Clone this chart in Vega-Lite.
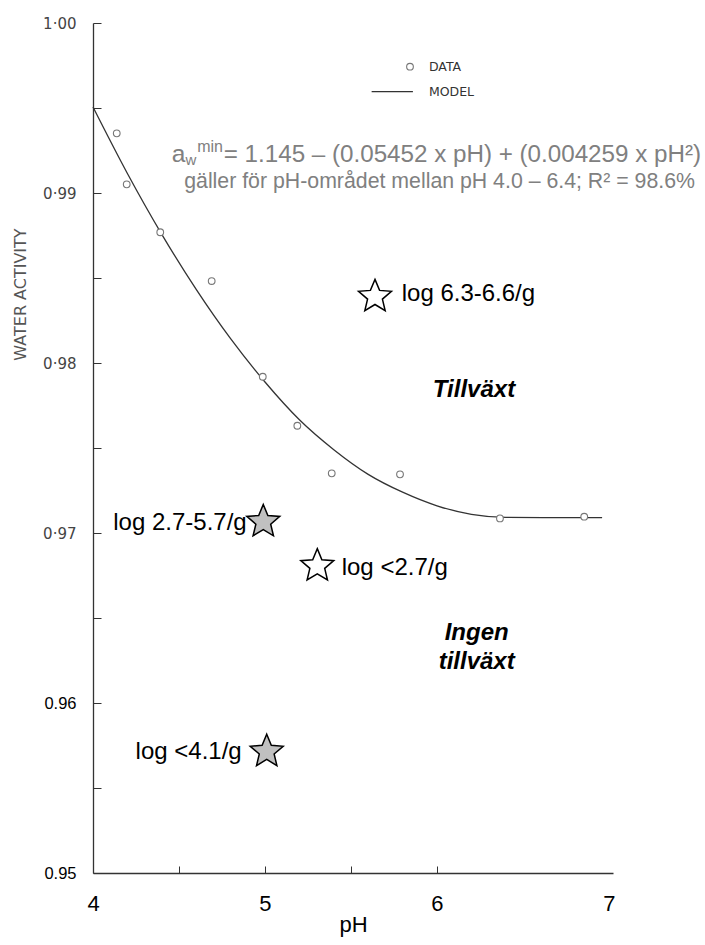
{
  "$schema": "https://vega.github.io/schema/vega-lite/v6.json",
  "autosize": {"type": "none"},
  "padding": {"left": 93, "top": 23, "right": 92, "bottom": 72},
  "width": 520,
  "height": 850,
  "background": "white",
  "config": {"view": {"stroke": null}, "axis": {"grid": false}},
  "datasets": {
    "model": [
      {"pH": 4.0, "aw": 0.99506},
      {"pH": 4.2, "aw": 0.99115},
      {"pH": 4.4, "aw": 0.98757},
      {"pH": 4.6, "aw": 0.98433},
      {"pH": 4.8, "aw": 0.98143},
      {"pH": 5.0, "aw": 0.97888},
      {"pH": 5.2, "aw": 0.97666},
      {"pH": 5.4, "aw": 0.9749},
      {"pH": 5.6, "aw": 0.97345},
      {"pH": 5.8, "aw": 0.9724},
      {"pH": 6.0, "aw": 0.9716},
      {"pH": 6.2, "aw": 0.9711},
      {"pH": 6.4, "aw": 0.97092},
      {"pH": 6.96, "aw": 0.9709}
    ],
    "observed": [
      {"pH": 4.138, "aw": 0.99351},
      {"pH": 4.196, "aw": 0.99051},
      {"pH": 4.391, "aw": 0.98769},
      {"pH": 4.69, "aw": 0.98482},
      {"pH": 4.987, "aw": 0.97919},
      {"pH": 5.188, "aw": 0.97631},
      {"pH": 5.388, "aw": 0.97351},
      {"pH": 5.785, "aw": 0.97345},
      {"pH": 6.366, "aw": 0.97086},
      {"pH": 6.856, "aw": 0.97096}
    ],
    "stars": [
      {"pH": 5.6395, "aw": 0.9839, "kind": "open"},
      {"pH": 4.99, "aw": 0.97066, "kind": "filled"},
      {"pH": 5.304, "aw": 0.96806, "kind": "open"},
      {"pH": 5.01, "aw": 0.95714, "kind": "filled"}
    ],
    "starLabels": [
      {"pH": 5.7948, "aw": 0.98406, "text": "log 6.3-6.6/g", "side": "right"},
      {"pH": 4.8936, "aw": 0.97059, "text": "log 2.7-5.7/g", "side": "left"},
      {"pH": 5.4459, "aw": 0.96794, "text": "log <2.7/g", "side": "right"},
      {"pH": 4.8645, "aw": 0.95714, "text": "log <4.1/g", "side": "left"}
    ],
    "regions": [
      {"pH": 6.2151, "aw": 0.978, "text": "Tillväxt"},
      {"pH": 6.2308, "aw": 0.96371, "text": "Ingen"},
      {"pH": 6.2308, "aw": 0.962, "text": "tillväxt"}
    ],
    "formula": [
      {"pH": 4.4576, "aw": 0.99184, "part": "a", "text": "a"},
      {"pH": 4.4576, "aw": 0.99184, "part": "sub", "text": "w"},
      {"pH": 4.4576, "aw": 0.99184, "part": "sup", "text": "min"},
      {"pH": 4.4576, "aw": 0.99184, "part": "main", "text": " = 1.145 – (0.05452 x pH) + (0.004259 x pH²)"},
      {"pH": 7.5, "aw": 0.99037, "part": "note", "text": "gäller för pH-området mellan pH 4.0 – 6.4; R² = 98.6%"}
    ],
    "legendLine": [
      {"pH": 5.62, "aw": 0.99596},
      {"pH": 5.86, "aw": 0.99596}
    ],
    "legendPoint": [
      {"pH": 5.843, "aw": 0.99743}
    ],
    "legendText": [
      {"pH": 5.953, "aw": 0.99741, "text": "DATA"},
      {"pH": 5.953, "aw": 0.99594, "text": "MODEL"}
    ]
  },
  "encoding": {
    "x": {
      "field": "pH",
      "type": "quantitative",
      "scale": {"domain": [4, 7.0233], "nice": false, "zero": false},
      "axis": {
        "values": [4, 4.5, 5, 5.5, 6, 7],
        "labelExpr": "(datum.value == 4.5 || datum.value == 5.5) ? '' : format(datum.value, '.0f')",
        "labelFlush": false,
        "labelOverlap": false,
        "tickSize": -7,
        "tickColor": "#333",
        "tickOpacity": {"condition": {"test": "datum.value == 4 || datum.value == 7", "value": 0}, "value": 1},
        "domainColor": "#333",
        "domainWidth": 1.3,
        "labelFont": "Liberation Sans",
        "labelFontSize": 22,
        "labelColor": "#000",
        "labelPadding": 27,
        "title": "pH",
        "titleFont": "Liberation Sans",
        "titleFontSize": 22,
        "titleFontWeight": "normal",
        "titleColor": "#000",
        "titlePadding": 0
      }
    },
    "y": {
      "field": "aw",
      "type": "quantitative",
      "scale": {"domain": [0.95, 1.0], "nice": false, "zero": false},
      "axis": {
        "values": [0.95, 0.955, 0.96, 0.965, 0.97, 0.975, 0.98, 0.985, 0.99, 0.995, 1.0],
        "labelExpr": "(round(datum.value * 1000) % 10 != 0) ? '' : (datum.value > 0.965 ? replace(format(datum.value, '.2f'), '.', '·') : format(datum.value, '.2f'))",
        "labelOverlap": false,
        "tickSize": -8,
        "tickColor": "#333",
        "domainColor": "#333",
        "domainWidth": 1.3,
        "labelFont": {"condition": {"test": "datum.value > 0.965", "value": "DejaVu Sans"}, "value": "Liberation Sans"},
        "labelFontSize": {"condition": {"test": "datum.value > 0.965", "value": 15}, "value": 16.5},
        "labelColor": {"condition": {"test": "datum.value > 0.965", "value": "#444"}, "value": "#000"},
        "labelPadding": 25,
        "title": "WATER ACTIVITY",
        "titleFont": "DejaVu Sans",
        "titleFontSize": 16,
        "titleFontWeight": "normal",
        "titleColor": "#555",
        "titleX": -73,
        "titleY": 271,
        "titleAlign": "center",
        "titleBaseline": "middle",
        "titleAngle": -90
      }
    }
  },
  "layer": [
    {
      "data": {"name": "model"},
      "mark": {"type": "line", "color": "#333", "strokeWidth": 1.3, "interpolate": "monotone"}
    },
    {
      "data": {"name": "observed"},
      "mark": {"type": "point", "shape": "circle", "filled": true, "fill": "white", "stroke": "#777", "strokeWidth": 1.1, "size": 45, "opacity": 1}
    },
    {
      "data": {"name": "stars"},
      "mark": {
        "type": "point",
        "shape": "M0,-1L0.2645,-0.364L0.951,-0.309L0.428,0.139L0.588,0.809L0,0.45L-0.588,0.809L-0.428,0.139L-0.951,-0.309L-0.2645,-0.364Z",
        "size": 1200,
        "stroke": "#000",
        "strokeWidth": 1.5,
        "filled": true,
        "opacity": 1
      },
      "encoding": {
        "fill": {"field": "kind", "type": "nominal", "scale": {"domain": ["open", "filled"], "range": ["#ffffff", "#c0c0c0"]}, "legend": null}
      }
    },
    {
      "data": {"name": "starLabels"},
      "transform": [{"filter": "datum.side == 'right'"}],
      "mark": {"type": "text", "align": "left", "baseline": "middle", "font": "Liberation Sans", "fontSize": 24, "color": "#000"},
      "encoding": {"text": {"field": "text"}}
    },
    {
      "data": {"name": "starLabels"},
      "transform": [{"filter": "datum.side == 'left'"}],
      "mark": {"type": "text", "align": "right", "baseline": "middle", "font": "Liberation Sans", "fontSize": 24, "color": "#000"},
      "encoding": {"text": {"field": "text"}}
    },
    {
      "data": {"name": "regions"},
      "mark": {"type": "text", "align": "center", "baseline": "alphabetic", "font": "Liberation Sans", "fontSize": 24, "fontWeight": "bold", "fontStyle": "italic", "color": "#000"},
      "encoding": {"text": {"field": "text"}}
    },
    {
      "data": {"name": "formula"},
      "transform": [{"filter": "datum.part == 'a'"}],
      "mark": {"type": "text", "align": "left", "baseline": "alphabetic", "font": "Liberation Sans", "fontSize": 24.5, "color": "#808080"},
      "encoding": {"text": {"field": "text"}}
    },
    {
      "data": {"name": "formula"},
      "transform": [{"filter": "datum.part == 'sub'"}],
      "mark": {"type": "text", "align": "left", "baseline": "alphabetic", "font": "Liberation Sans", "fontSize": 15, "color": "#808080", "dx": 13.8, "dy": 3},
      "encoding": {"text": {"field": "text"}}
    },
    {
      "data": {"name": "formula"},
      "transform": [{"filter": "datum.part == 'sup'"}],
      "mark": {"type": "text", "align": "left", "baseline": "alphabetic", "font": "Liberation Sans", "fontSize": 16, "color": "#808080", "dx": 25.5, "dy": -10},
      "encoding": {"text": {"field": "text"}}
    },
    {
      "data": {"name": "formula"},
      "transform": [{"filter": "datum.part == 'main'"}],
      "mark": {"type": "text", "align": "left", "baseline": "alphabetic", "font": "Liberation Sans", "fontSize": 24.2, "color": "#808080", "dx": 52},
      "encoding": {"text": {"field": "text"}}
    },
    {
      "data": {"name": "formula"},
      "transform": [{"filter": "datum.part == 'note'"}],
      "mark": {"type": "text", "align": "right", "baseline": "alphabetic", "font": "Liberation Sans", "fontSize": 21.3, "color": "#808080", "dy": 1},
      "encoding": {"text": {"field": "text"}}
    },
    {
      "data": {"name": "legendLine"},
      "mark": {"type": "line", "color": "#333", "strokeWidth": 1.3},
      "encoding": {}
    },
    {
      "data": {"name": "legendPoint"},
      "mark": {"type": "point", "shape": "circle", "filled": true, "fill": "white", "stroke": "#777", "strokeWidth": 1.1, "size": 45, "opacity": 1}
    },
    {
      "data": {"name": "legendText"},
      "mark": {"type": "text", "align": "left", "baseline": "middle", "font": "DejaVu Sans", "fontSize": 12.5, "color": "#333"},
      "encoding": {"text": {"field": "text"}}
    }
  ]
}
